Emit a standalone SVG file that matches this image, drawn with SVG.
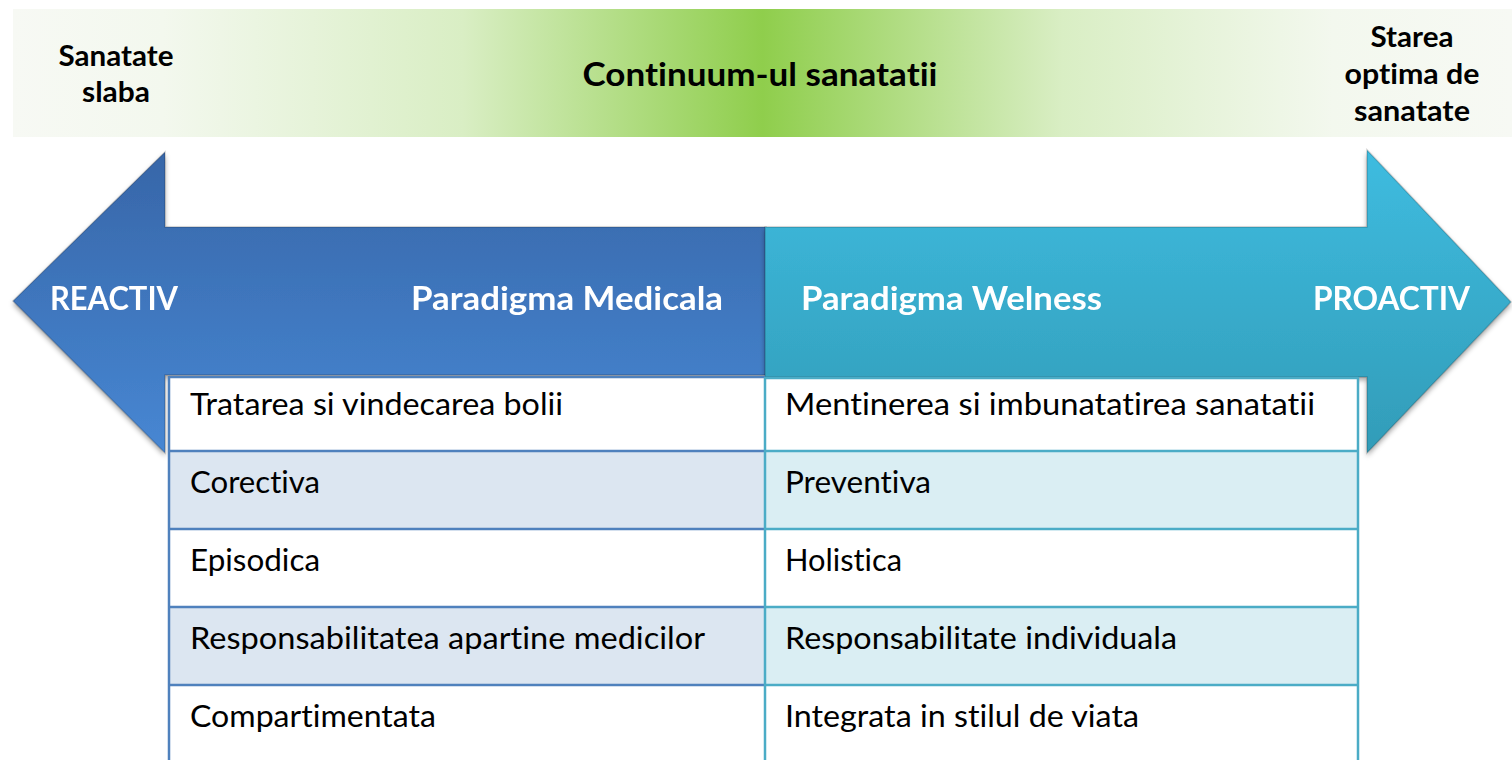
<svg xmlns="http://www.w3.org/2000/svg" width="1512" height="760" viewBox="0 0 1512 760">
<defs>
<linearGradient id="gBand" x1="13" y1="0" x2="1512" y2="0" gradientUnits="userSpaceOnUse">
<stop offset="0" stop-color="#F7F9F4"/>
<stop offset="0.1" stop-color="#F3F8EE"/>
<stop offset="0.3" stop-color="#D9EEC4"/>
<stop offset="0.5" stop-color="#8FCE4C"/>
<stop offset="0.7" stop-color="#D9EEC4"/>
<stop offset="0.88" stop-color="#F3F8EE"/>
<stop offset="1" stop-color="#F7F9F4"/>
</linearGradient>
<linearGradient id="gBlue" x1="0" y1="152" x2="0" y2="453" gradientUnits="userSpaceOnUse">
<stop offset="0" stop-color="#3766A8"/>
<stop offset="1" stop-color="#4787D3"/>
</linearGradient>
<linearGradient id="gTeal" x1="0" y1="150" x2="0" y2="453" gradientUnits="userSpaceOnUse">
<stop offset="0" stop-color="#3EBCE0"/>
<stop offset="1" stop-color="#329CB8"/>
</linearGradient>
<filter id="shadow" x="-5%" y="-10%" width="110%" height="125%">
<feDropShadow dx="0" dy="3" stdDeviation="2.5" flood-color="#000" flood-opacity="0.35"/>
</filter>
<style>
text{font-family:Lato,"Open Sans","Liberation Sans",sans-serif;font-variant-ligatures:none;}
.hb{font-weight:bold;font-size:28px;fill:#000;}
.ttl{font-weight:bold;font-size:32px;fill:#000;}
.aw{font-weight:bold;font-size:33px;fill:#fff;}
.cell{font-size:30px;fill:#000;}
.lb{stroke:#4F81BD;stroke-width:2.5;}
.lt{stroke:#4BACC6;stroke-width:2.5;}
.bev{stroke:#000;stroke-opacity:0.18;stroke-width:1.5;}
</style>
</defs>

<g id="band">
<rect x="13" y="9" width="1499" height="128" fill="url(#gBand)"/>
<text class="hb" text-anchor="middle" x="116" y="66" textLength="115" lengthAdjust="spacingAndGlyphs">Sanatate</text>
<text class="hb" text-anchor="middle" x="116" y="102" textLength="68" lengthAdjust="spacingAndGlyphs">slaba</text>
<text class="ttl" text-anchor="middle" x="760" y="86" textLength="355" lengthAdjust="spacingAndGlyphs">Continuum-ul sanatatii</text>
<text class="hb" text-anchor="middle" x="1412" y="47" textLength="83" lengthAdjust="spacingAndGlyphs">Starea</text>
<text class="hb" text-anchor="middle" x="1412" y="84" textLength="135" lengthAdjust="spacingAndGlyphs">optima de</text>
<text class="hb" text-anchor="middle" x="1412" y="121" textLength="116" lengthAdjust="spacingAndGlyphs">sanatate</text>
</g>

<g id="arrow-left" filter="url(#shadow)">
<polygon class="bev" points="13,301 165,152 165,227 766,227 766,375 165,375 165,453" fill="url(#gBlue)"/>
<text class="aw" x="50" y="310" textLength="128" lengthAdjust="spacingAndGlyphs">REACTIV</text>
<text class="aw" x="411" y="310" textLength="312" lengthAdjust="spacingAndGlyphs">Paradigma Medicala</text>
</g>

<g id="arrow-right" filter="url(#shadow)">
<polygon class="bev" points="765,227 1367,227 1367,150 1511,302 1367,453 1367,377 765,377" fill="url(#gTeal)"/>
<text class="aw" x="801" y="310" textLength="301" lengthAdjust="spacingAndGlyphs">Paradigma Welness</text>
<text class="aw" x="1313" y="310" textLength="157" lengthAdjust="spacingAndGlyphs">PROACTIV</text>
</g>

<g id="table">
<g id="col-medical">
<rect x="169" y="376" width="596" height="75" fill="#FFFFFF"/>
<rect x="169" y="451" width="596" height="78" fill="#DCE6F1"/>
<rect x="169" y="529" width="596" height="78" fill="#FFFFFF"/>
<rect x="169" y="607" width="596" height="78" fill="#DCE6F1"/>
<rect x="169" y="685" width="596" height="80" fill="#FFFFFF"/>
<line class="lb" x1="169" y1="377" x2="765" y2="377" stroke-width="3"/>
<line class="lb" x1="169" y1="451" x2="765" y2="451" stroke-width="3"/>
<line class="lb" x1="169" y1="529" x2="765" y2="529"/>
<line class="lb" x1="169" y1="607" x2="765" y2="607"/>
<line class="lb" x1="169" y1="685" x2="765" y2="685"/>
<line class="lb" x1="169" y1="376" x2="169" y2="760"/>
<text class="cell" x="190" y="415" textLength="373" lengthAdjust="spacingAndGlyphs">Tratarea si vindecarea bolii</text>
<text class="cell" x="190" y="493" textLength="130" lengthAdjust="spacingAndGlyphs">Corectiva</text>
<text class="cell" x="190" y="571" textLength="130" lengthAdjust="spacingAndGlyphs">Episodica</text>
<text class="cell" x="190" y="649" textLength="515" lengthAdjust="spacingAndGlyphs">Responsabilitatea apartine medicilor</text>
<text class="cell" x="190" y="727" textLength="246" lengthAdjust="spacingAndGlyphs">Compartimentata</text>
</g>
<g id="col-welness">
<rect x="765" y="377" width="593" height="74" fill="#FFFFFF"/>
<rect x="765" y="451" width="593" height="78" fill="#DAEEF3"/>
<rect x="765" y="529" width="593" height="78" fill="#FFFFFF"/>
<rect x="765" y="607" width="593" height="78" fill="#DAEEF3"/>
<rect x="765" y="685" width="593" height="80" fill="#FFFFFF"/>
<line class="lt" x1="765" y1="378" x2="1358" y2="378" stroke-width="3"/>
<line class="lt" x1="765" y1="451" x2="1358" y2="451" stroke-width="3"/>
<line class="lt" x1="765" y1="529" x2="1358" y2="529"/>
<line class="lt" x1="765" y1="607" x2="1358" y2="607"/>
<line class="lt" x1="765" y1="685" x2="1358" y2="685"/>
<line class="lt" x1="765" y1="377" x2="765" y2="760"/>
<line class="lt" x1="1358" y1="377" x2="1358" y2="760"/>
<text class="cell" x="785" y="415" textLength="530" lengthAdjust="spacingAndGlyphs">Mentinerea si imbunatatirea sanatatii</text>
<text class="cell" x="785" y="493" textLength="146" lengthAdjust="spacingAndGlyphs">Preventiva</text>
<text class="cell" x="785" y="571" textLength="117" lengthAdjust="spacingAndGlyphs">Holistica</text>
<text class="cell" x="785" y="649" textLength="392" lengthAdjust="spacingAndGlyphs">Responsabilitate individuala</text>
<text class="cell" x="785" y="727" textLength="354" lengthAdjust="spacingAndGlyphs">Integrata in stilul de viata</text>
</g>
</g>
</svg>
